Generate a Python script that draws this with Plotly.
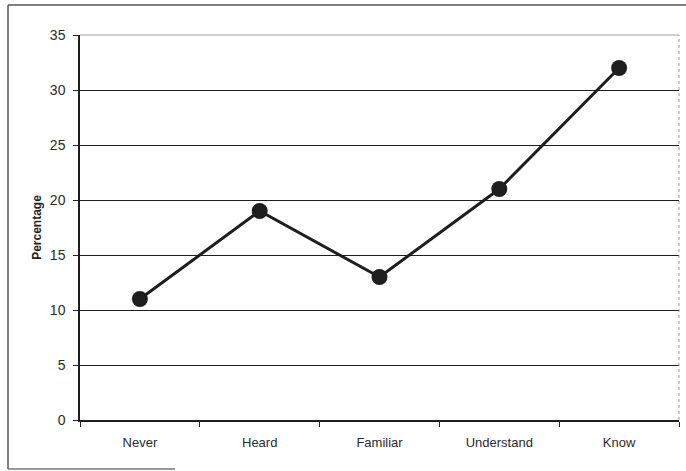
import plotly.graph_objects as go

# Awareness levels and the share of respondents at each level
levels = ["Never", "Heard", "Familiar", "Understand", "Know"]
percentages = [11, 19, 13, 21, 32]
y_ticks = [0, 5, 10, 15, 20, 25, 30, 35]

fig = go.Figure(
    go.Scatter(
        x=levels,
        y=percentages,
        mode="lines+markers",
        line=dict(color="#1e1e1e", width=3),
        marker=dict(color="#1e1e1e", size=16),
        showlegend=False,
    )
)

L, R, T, B = 80, 7, 35, 51
W, H = 686, 471
pw, ph = W - L - R, H - T - B


def px(x):
    return (x - L) / pw


def py(y):
    return (H - B - y) / ph


shapes = [
    # outer frame
    dict(type="line", xref="paper", yref="paper", x0=px(8), x1=px(686), y0=py(5), y1=py(5),
         line=dict(color="#555555", width=1.5)),
    dict(type="line", xref="paper", yref="paper", x0=px(8), x1=px(8), y0=py(5), y1=py(469),
         line=dict(color="#555555", width=1.5)),
    dict(type="line", xref="paper", yref="paper", x0=px(8), x1=px(175), y0=py(469), y1=py(469),
         line=dict(color="#777777", width=1.5)),
    # faint top and right edges of the plotting area
    dict(type="line", xref="paper", yref="paper", x0=0, x1=1, y0=1, y1=1,
         line=dict(color="#cfcfcf", width=2), layer="above"),
    dict(type="line", xref="paper", yref="paper", x0=1, x1=1, y0=0, y1=1,
         line=dict(color="#9a9a9a", width=1, dash="dot")),
]

fig.update_layout(
    width=W,
    height=H,
    margin=dict(l=L, r=R, t=T, b=B),
    paper_bgcolor="white",
    plot_bgcolor="white",
    font=dict(family="Liberation Sans, Arial, sans-serif", size=12, color="#222222"),
    shapes=shapes,
    xaxis=dict(
        type="category",
        range=[-0.5, 4.5],
        showgrid=False,
        showline=True,
        linecolor="#1e1e1e",
        linewidth=1.5,
        ticks="outside",
        tickson="boundaries",
        ticklen=5,
        tickcolor="#1e1e1e",
        ticklabelstandoff=10,
        tickfont=dict(size=13, color="#2a2a2a"),
    ),
    yaxis=dict(
        range=[0, 35],
        tickvals=y_ticks,
        showgrid=True,
        gridcolor="#1e1e1e",
        gridwidth=1,
        zeroline=False,
        showline=True,
        linecolor="#1e1e1e",
        linewidth=1.5,
        ticks="outside",
        ticklen=5,
        tickcolor="#1e1e1e",
        ticklabelstandoff=5,
        tickfont=dict(size=14, color="#2a2a2a"),
        title=dict(
            text="<b>Percentage</b>",
            font=dict(size=12, color="#222222"),
            standoff=6,
        ),
    ),
)

fig.write_html("out.html")
